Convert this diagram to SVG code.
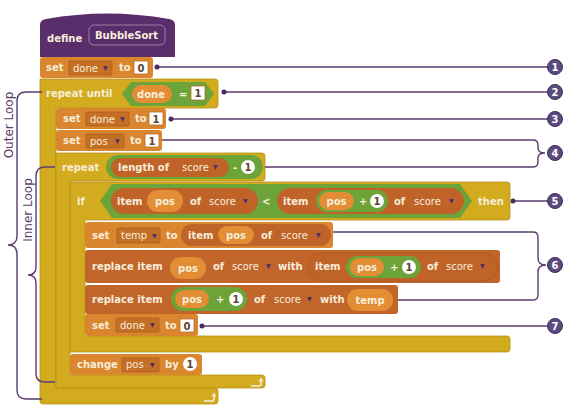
<svg xmlns="http://www.w3.org/2000/svg" width="566" height="413" viewBox="0 0 566 413">
<style>
text{font-family:"DejaVu Sans","Liberation Sans",sans-serif;font-size:10px;fill:#f8eddb}
.b{font-weight:bold}
.n{font-weight:normal}
.m{text-anchor:middle}
.num{fill:#5a4632;font-weight:bold;text-anchor:middle}
.tri{fill:#4a2a6a;font-size:6px}
.var{fill:#d9862e}
.list{fill:#c1652b}
.ctl{fill:#d3ab1f;stroke:#b8911a;stroke-width:0.8}
.op{fill:#6ca43a}
.rep{fill:#bf6328}
.vr{fill:#e38e34}
.dd{fill:#c46f26;stroke:#a95a1d;stroke-width:0.7}
.wb{fill:#fff;stroke:#b86b2a;stroke-width:0.8}
.ln{fill:none;stroke:#5a3d6e;stroke-width:1.4}
.dot{fill:#4a2a60}
.lab circle{fill:#5c4a80;stroke:#3c2d58;stroke-width:1}
.lab text{font-weight:bold;text-anchor:middle;fill:#fff}
.side{fill:#5a3d6e;font-size:12px;text-anchor:middle}
</style>
<defs>
<g id="loopArrow"><path d="M-7,2 H1 Q3,2 3,0 V-3" fill="none" stroke="#f8eddb" stroke-width="1.5"/><path d="M0.5,-2.5 L3,-6.5 L5.5,-2.5 Z" fill="#f8eddb"/></g>
</defs>

<g id="outer-repeat">
<path class="ctl" d="M40,79 H215 Q218,79 218,82 V105 Q218,108 215,108 H56 V388 H215 Q218,388 218,391 V401 Q218,404 215,404 H43 Q40,404 40,401 Z"/>
<text class="b" x="46" y="97">repeat until</text>
<path class="op" d="M122,94 L131,82 H205 L214,94 L205,106 H131 Z"/>
<rect class="vr" x="132" y="85" width="40" height="18" rx="9"/>
<text class="b" x="137" y="98">done</text>
<text class="b" x="179" y="98">=</text>
<rect class="wb" x="191" y="86" width="14" height="14"/>
<text class="num" x="198" y="97">1</text>
<use href="#loopArrow" x="211" y="399"/>
</g>

<g id="inner-repeat">
<path class="ctl" d="M56,153 H262 Q265,153 265,156 V178 Q265,181 262,181 H70 V375 H262 Q265,375 265,378 V385 Q265,388 262,388 H56 Z"/>
<text class="b" x="62" y="171">repeat</text>
<rect class="op" x="106" y="155" width="157" height="24" rx="12"/>
<rect class="rep" x="111" y="158" width="118" height="19" rx="9.5"/>
<text class="b" x="118" y="171">length of</text>
<text class="n" x="182" y="171">score</text>
<text class="tri" x="213" y="169">▼</text>
<text class="b" x="233" y="171">-</text>
<circle cx="248" cy="167" r="7" fill="#fff"/>
<text class="num" x="248" y="170.5">1</text>
<use href="#loopArrow" x="258" y="384"/>
</g>

<g id="if-block">
<path class="ctl" d="M70,182 H507 Q510,182 510,185 V217 Q510,220 507,220 H85 V336 H507 Q510,336 510,339 V349 Q510,352 507,352 H70 Z"/>
<text class="b" x="77" y="205">if</text>
<path class="op" d="M100,201 L112,184 H460 L472,201 L460,218 H112 Z"/>
<rect class="rep" x="111" y="188" width="147" height="26" rx="13"/>
<text class="b" x="117" y="205">item</text>
<rect class="vr" x="147" y="190" width="36" height="22" rx="11"/>
<text class="b m" x="165" y="205">pos</text>
<text class="b" x="190" y="205">of</text>
<text class="n" x="209" y="205">score</text>
<text class="tri" x="243" y="203">▼</text>
<text class="b" x="262" y="205">&lt;</text>
<rect class="rep" x="277" y="188" width="187" height="26" rx="13"/>
<text class="b" x="283" y="205">item</text>
<rect class="op" x="316" y="190" width="72" height="22" rx="11"/>
<rect class="vr" x="319" y="192" width="35" height="18" rx="9"/>
<text class="b m" x="336.5" y="205">pos</text>
<text class="b" x="359" y="205">+</text>
<circle cx="377" cy="201" r="7" fill="#fff"/>
<text class="num" x="377" y="204.5">1</text>
<text class="b" x="394" y="205">of</text>
<text class="n" x="414" y="205">score</text>
<text class="tri" x="449" y="203">▼</text>
<text class="b" x="478" y="205">then</text>
</g>

<g id="define-hat">
<path d="M40,57 V25 Q40,20 46,19 Q107,8 169,19 Q175,20 175,25 V57 Z" fill="#5a2d6b"/>
<text class="b" x="47" y="42">define</text>
<rect x="89" y="25" width="76" height="20" rx="5" fill="none" stroke="#9a7fa8" stroke-width="1"/>
<text class="b" x="95" y="39">BubbleSort</text>
</g>

<g id="set-done-0">
<rect class="var" x="40" y="57" width="113" height="21" rx="3"/>
<text class="b" x="46" y="71">set</text>
<rect class="dd" x="69" y="61" width="43" height="14" rx="1"/>
<text class="n" x="73" y="71.5">done</text>
<text class="tri" x="103" y="70">▼</text>
<text class="b" x="119" y="71">to</text>
<rect class="wb" x="134" y="61" width="14" height="13"/>
<text class="num" x="141" y="71.5">0</text>
</g>

<g id="set-done-1">
<rect class="var" x="56" y="108" width="110" height="21" rx="3"/>
<text class="b" x="63" y="122">set</text>
<rect class="dd" x="86" y="112" width="43" height="14" rx="1"/>
<text class="n" x="90" y="122.5">done</text>
<text class="tri" x="120" y="121">▼</text>
<text class="b" x="135" y="122">to</text>
<rect class="wb" x="149" y="112" width="14" height="13"/>
<text class="num" x="156" y="122.5">1</text>
</g>

<g id="set-pos-1">
<rect class="var" x="56" y="130" width="106" height="21" rx="3"/>
<text class="b" x="63" y="144">set</text>
<rect class="dd" x="86" y="134" width="38" height="14" rx="1"/>
<text class="n" x="90" y="144.5">pos</text>
<text class="tri" x="115" y="143">▼</text>
<text class="b" x="130" y="144">to</text>
<rect class="wb" x="145" y="134" width="14" height="13"/>
<text class="num" x="152" y="144.5">1</text>
</g>

<g id="set-temp">
<rect class="var" x="85" y="222" width="248" height="26" rx="3"/>
<text class="b" x="92" y="239">set</text>
<rect class="dd" x="117" y="228" width="43" height="15" rx="1"/>
<text class="n" x="121" y="239">temp</text>
<text class="tri" x="152" y="238">▼</text>
<text class="b" x="166" y="239">to</text>
<rect class="rep" x="181" y="224" width="150" height="22" rx="11"/>
<text class="b" x="188" y="239">item</text>
<rect class="vr" x="218" y="226" width="36" height="18" rx="9"/>
<text class="b m" x="236" y="239">pos</text>
<text class="b" x="261" y="239">of</text>
<text class="n" x="281" y="239">score</text>
<text class="tri" x="316" y="237">▼</text>
</g>

<g id="replace-1">
<rect class="list" x="85" y="250" width="415" height="33" rx="3"/>
<text class="b" x="92" y="270">replace item</text>
<rect class="vr" x="170" y="257" width="36" height="22" rx="11"/>
<text class="b m" x="188" y="272">pos</text>
<text class="b" x="213" y="270">of</text>
<text class="n" x="232" y="270">score</text>
<text class="tri" x="266" y="268">▼</text>
<text class="b" x="278" y="270">with</text>
<rect class="rep" x="308" y="253" width="190" height="28" rx="14" stroke="#a9561f" stroke-width="0.7"/>
<text class="b" x="315" y="270">item</text>
<rect class="op" x="346" y="256" width="75" height="22" rx="11"/>
<rect class="vr" x="350" y="258" width="34" height="18" rx="9"/>
<text class="b m" x="367" y="271">pos</text>
<text class="b" x="390" y="271">+</text>
<circle cx="409" cy="267" r="7" fill="#fff"/>
<text class="num" x="409" y="270.5">1</text>
<text class="b" x="427" y="270">of</text>
<text class="n" x="446" y="270">score</text>
<text class="tri" x="480" y="268">▼</text>
</g>

<g id="replace-2">
<rect class="list" x="85" y="285" width="313" height="29" rx="3"/>
<text class="b" x="92" y="303">replace item</text>
<rect class="op" x="171" y="287" width="76" height="24" rx="12"/>
<rect class="vr" x="175" y="290" width="34" height="18" rx="9"/>
<text class="b m" x="192" y="303">pos</text>
<text class="b" x="216" y="303">+</text>
<circle cx="236" cy="299" r="7" fill="#fff"/>
<text class="num" x="236" y="302.5">1</text>
<text class="b" x="254" y="303">of</text>
<text class="n" x="274" y="303">score</text>
<text class="tri" x="307" y="301">▼</text>
<text class="b" x="320" y="303">with</text>
<rect class="vr" x="347" y="289" width="46" height="22" rx="11"/>
<text class="b m" x="370" y="304">temp</text>
</g>

<g id="set-done-0b">
<rect class="var" x="85" y="314" width="113" height="22" rx="3"/>
<text class="b" x="92" y="329">set</text>
<rect class="dd" x="116" y="318" width="43" height="14" rx="1"/>
<text class="n" x="120" y="328.5">done</text>
<text class="tri" x="150" y="327">▼</text>
<text class="b" x="165" y="329">to</text>
<rect class="wb" x="180" y="319" width="14" height="13"/>
<text class="num" x="187" y="329.5">0</text>
</g>

<g id="change-pos">
<rect class="var" x="70" y="354" width="132" height="21" rx="3"/>
<text class="b" x="77" y="368">change</text>
<rect class="dd" x="122" y="358" width="37" height="14" rx="1"/>
<text class="n" x="126" y="368">pos</text>
<text class="tri" x="150" y="367">▼</text>
<text class="b" x="165" y="368">by</text>
<circle cx="190" cy="364" r="7" fill="#fff"/>
<text class="num" x="190" y="367.5">1</text>
</g>

<g id="connectors">
<path class="ln" d="M157,67 H548"/>
<path class="ln" d="M224,92 H548"/>
<path class="ln" d="M171,119 H548"/>
<path class="ln" d="M162,140 H533 Q538,140 538,145 V148 Q538,153 545,153 Q538,153 538,158 V162 Q538,167 533,167 H265"/>
<path class="ln" d="M513,201 H548"/>
<path class="ln" d="M333,232 H533 Q538,232 538,237 V258 Q538,265 546,265 Q538,265 538,272 V295 Q538,300 533,300 H398"/>
<path class="ln" d="M202,326 H548"/>
<circle class="dot" cx="157" cy="67" r="2.5"/>
<circle class="dot" cx="224" cy="92" r="2.5"/>
<circle class="dot" cx="171" cy="119" r="2.5"/>
<circle class="dot" cx="513" cy="201" r="2.5"/>
<circle class="dot" cx="202" cy="326" r="2.5"/>
<path class="ln" d="M42,92 H26 Q17,92 17,101 V236 Q17,245 8,245 Q17,245 17,254 V390 Q17,399 26,399 H42"/>
<path class="ln" d="M55,167 H45 Q36,167 36,176 V267 Q36,275 28,275 Q36,275 36,283 V374 Q36,382 45,382 H55"/>
</g>

<g id="side-labels">
<text class="side" transform="translate(13,125) rotate(-90)">Outer Loop</text>
<text class="side" transform="translate(32,210) rotate(-90)">Inner Loop</text>
</g>

<g id="callouts" class="lab">
<circle cx="555" cy="67" r="7.5"/><text x="555" y="70.5">1</text>
<circle cx="555" cy="92" r="7.5"/><text x="555" y="95.5">2</text>
<circle cx="555" cy="119" r="7.5"/><text x="555" y="122.5">3</text>
<circle cx="555" cy="153" r="7.5"/><text x="555" y="156.5">4</text>
<circle cx="555" cy="201" r="7.5"/><text x="555" y="204.5">5</text>
<circle cx="555" cy="265" r="7.5"/><text x="555" y="268.5">6</text>
<circle cx="555" cy="326" r="7.5"/><text x="555" y="329.5">7</text>
</g>
</svg>
